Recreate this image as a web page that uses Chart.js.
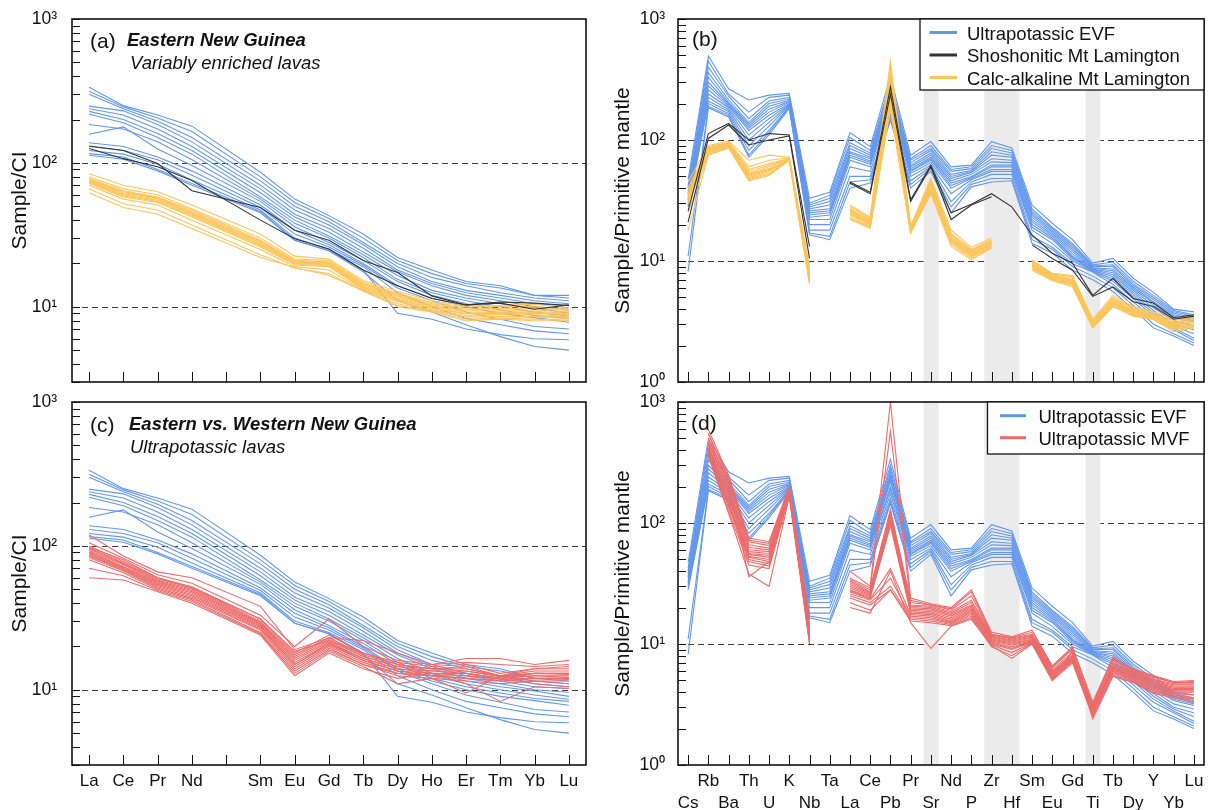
<!DOCTYPE html>
<html><head><meta charset="utf-8">
<script src="https://cdn.jsdelivr.net/npm/chart.js@4.4.1/dist/chart.umd.min.js"></script>
<style>
html,body{margin:0;padding:0;background:#fff;width:1211px;height:810px;overflow:hidden}
canvas{position:absolute;display:block}
</style></head><body>
<canvas id="ca" width="600" height="392" style="left:0;top:0"></canvas>
<canvas id="cb" width="611" height="392" style="left:600px;top:0"></canvas>
<canvas id="cc" width="600" height="418" style="left:0;top:392px"></canvas>
<canvas id="cd" width="611" height="418" style="left:600px;top:392px"></canvas>
<script>
// ---------------- categories ----------------
const REE = ['La','Ce','Pr','Nd','Pm','Sm','Eu','Gd','Tb','Dy','Ho','Er','Tm','Yb','Lu'];
const PM  = ['Cs','Rb','Ba','Th','U','K','Nb','Ta','La','Ce','Pb','Pr','Sr','Nd','P','Zr','Hf','Sm','Eu','Gd','Ti','Tb','Dy','Y','Yb','Lu'];
const DECADES = [1, 10, 100, 1000];
const DASHED = [10, 100];
const BANDS = [['Sr','Sr'], ['Zr','Hf'], ['Ti','Ti']];

// ---------------- chondrite-normalised REE (panels a, c) ----------------
const EVF_REE = [
 [335,250,215,180,null,86,56,43,32,22,18,15,14,12,12],
 [315,245,205,165,null,80,53,41,30,21,17,14.5,13.5,12,11.5],
 [300,238,195,150,null,75,50,39,28,20,16,14,12.5,11.5,11],
 [248,230,185,140,null,70,47,37,27,19,15,13,12,11,10.5],
 [238,215,172,130,null,66,44,35,25.5,18,14.5,12.5,11.5,10.5,10.2],
 [228,200,160,122,null,62,42,33,24,17.5,14,12,11,10,9.6],
 [218,190,150,115,null,58,40,31,23,16.5,13,11.5,10.5,9.8,9.0],
 [185,172,140,105,null,56,38,30,22,15.5,12.5,11,10,9.2,8.6],
 [158,178,125,96,null,54,36,28,21,15,12,10.5,9.5,8.7,8.3],
 [138,130,110,88,null,51,34,27,20,14,11.5,10,9,8.4,7.8],
 [130,122,105,82,null,49,32,26,19.5,13.5,11,9.2,8.2,7.3,7.0],
 [122,115,98,76,null,47,30,25,19,12.5,10,8.3,7.5,6.8,6.5],
 [116,110,90,72,null,46,29,24.5,18,9.0,8.2,7.0,6.4,6.0,5.9],
 [113,106,88,70,null,45,29,24.5,17.5,11,9.2,7.5,6.2,5.3,5.0]
];
const SHO_REE = [
 [131,122,99,64,null,49,34,29,21,17.3,11.9,10.3,10.6,9.6,10.3],
 [126,107,94,75.5,null,40,29.7,25.2,18,14,11.4,10.3,10.8,10.6,10.2]
];
const CA_REE = [
 [84,70,63,51,null,32,22.5,21.5,15.2,12.8,11,10.2,10.2,10.4,9.8],
 [80,66,60,48,null,30,21.5,21,14.8,12.4,10.7,10,10,10,9.6],
 [78,64,58,47,null,29,21,20.5,14.5,12.2,10.5,9.8,9.7,9.8,9.4],
 [77,63,57.5,46,null,28.5,20.8,20.2,14.3,12,10.3,9.6,9.5,9.5,9.2],
 [76,62,57,45,null,28,20.5,20,14,11.8,10.1,9.4,9.3,9.3,9.0],
 [75,61,56,44.5,null,27.5,20.2,19.8,13.8,11.5,10,9.2,9.1,9.1,8.9],
 [74,60,55,44,null,27,20,19.5,13.6,11.3,9.8,9.0,9.0,9.0,8.8],
 [73,59,54,43,null,26.5,19.8,19.2,13.4,11.1,9.7,8.9,8.8,8.8,8.6],
 [72,58,53,42,null,26,19.5,19,13.2,10.9,9.5,8.7,8.6,8.6,8.5],
 [70,56,51,40,null,25,19,18,13,10.5,9.4,8.5,8.5,8.5,8.3],
 [66,52,47,37,null,23,18.5,17,12.8,10.2,9.3,8.2,8.3,8.2,8.1],
 [62,49,44,35,null,22,18.8,16.5,13,10,9.2,8.0,8.2,8.0,8.0]
];
const MVF_REE = [
 [119,85,66,60,null,38,19,23,22,18,15,16.5,16.5,15,16],
 [105,82,63,55,null,33,20,31,20,16,15,15.5,15,14.5,15],
 [100,78,60,52,null,31,18,24,18,15.5,14.5,15,13,14,14.5],
 [97,76,59,51,null,30,17.5,23,17.5,15,14,14.5,12.5,14,14],
 [95,75,58,50,null,29.5,17,22.5,17,14.5,14,14,12.5,13.5,13.5],
 [93,74,57,49,null,29,16.5,22,17,14.5,13.5,13.5,12.3,13,13],
 [91,72,56,48,null,28.5,16,21.5,16.5,14,13.5,13,12,13,12.8],
 [90,71,55,47,null,28,15.5,21,16.5,14,13,13,12,12.5,12.5],
 [88,70,54,46,null,27.5,15,21,16,13.5,13,12.5,12,12.5,12.2],
 [86,69,53,45,null,27,15,20.5,16,13.5,12.5,12.5,11.8,12,12],
 [85,68,52,44,null,26.5,14.5,20,15.5,13,12.5,12,11.5,12,11.8],
 [83,67,51,43,null,26,14,19.5,15,13,12.5,12,11.5,11.5,11.5],
 [80,65,50,42,null,25,13.5,19,15,12.5,12,11.5,11,11.5,11],
 [70,62,49,41,null,24.5,13,18.5,14.5,11,12,9.5,12.5,11,10.5],
 [60,58,48,40,null,24,12.5,18,14,12,13,11,8.3,10.5,10.2],
 [98,80,60,51,null,31,18.5,22,18,15,14,13.5,12.5,13,13]
];

// ---------------- primitive-mantle-normalised (panels b, d) ----------------
const EVF_PM = [
 [47,494,265,214,235,243,33,37,115,88,336,75,97,60,62,97,86,29,20.5,15,9.6,10.5,7.2,5.5,4.0,3.8],
 [42,450,240,170,225,235,30,35,105,82,300,70,90,57,60,90,82,27,19,14,9.3,9.8,6.8,5.2,3.9,3.6],
 [40,400,230,150,210,225,29,33,95,78,280,68,85,55,58,85,78,26,18.5,13.5,9.1,9.3,6.5,5.0,3.8,3.5],
 [38,360,215,140,200,218,28,31,90,75,260,65,82,52,56,80,75,25,18,13,9.0,9.0,6.3,4.8,3.7,3.4],
 [36,330,205,135,190,212,27,29,85,72,250,62,78,50,55,75,72,24,17.5,12.5,8.8,8.6,6.1,4.6,3.6,3.3],
 [35,300,200,130,180,208,26,27,80,70,240,60,75,48,54,70,68,23,17,12,8.7,8.3,5.9,4.5,3.5,3.2],
 [33,280,195,125,170,205,25,26,78,67,230,58,72,46,52,66,65,22,16.5,11.5,8.6,8.0,5.7,4.3,3.4,3.1],
 [32,260,190,120,160,200,24,25,75,65,220,56,70,44,50,62,62,21,16,11,8.5,7.7,5.5,4.1,3.2,2.9],
 [31,240,185,110,150,198,23,24,72,63,200,55,68,42,49,60,60,20,15.5,10.7,8.4,7.4,5.3,3.9,3.0,2.7],
 [30,225,178,100,140,195,22,22,68,60,190,53,65,40,48,57,57,19,15,10.4,8.3,7.1,5.1,3.7,2.9,2.5],
 [29,210,172,90,130,192,20,20,60,55,175,50,62,36,47,55,55,18,14,10,8.2,6.8,4.9,3.5,2.8,2.3],
 [28,200,165,82,120,188,18,18,50,50,160,46,60,31,45,52,52,16,13,9.5,8.1,6.4,4.6,3.3,2.7,2.2],
 [11,190,160,75,115,185,17,16,45,47,150,43,58,28,43,48,48,15,12.5,9.0,7.5,6.0,4.3,3.0,2.5,2.1],
 [8.2,185,155,72,110,182,16.5,15,40,44,145,40,55,25,41,45,46,14,11.6,8.4,7.0,5.6,4.0,2.8,2.4,2.0]
];
const SHO_PM = [
 [26,113,137,100,113,110,13.2,null,45,37,275,32,62,25,29.5,36,28,16.4,11.6,9.6,5.2,7.2,4.9,4.5,3.4,3.6],
 [21,103,133,91,100,108,10.5,null,44,36,240,31,60,22,29,34,null,13.6,10.5,8.4,5.1,6.1,4.6,4.2,3.3,3.5]
];
const CA_PM = [
 [45,90,98,68,75,72,9.0,null,29,23,450,19.5,48,18,13,15.5,null,10.2,7.9,7.6,3.3,5.2,4.2,3.8,3.3,3.6],
 [40,88,96,60,68,71,8.5,null,28,22.5,400,19,46,17,12.5,15,null,10,7.8,7.4,3.2,5.0,4.1,3.7,3.2,3.5],
 [38,86,95,57,64,70.5,8.2,null,27,22,350,18.7,45,16.5,12.2,14.7,null,9.8,7.7,7.2,3.15,4.9,4.0,3.6,3.1,3.4],
 [36,85,94,55,62,70,8.0,null,26.5,21.5,320,18.5,44,16,12,14.5,null,9.6,7.6,7.0,3.1,4.8,3.9,3.6,3.05,3.3],
 [35,84,93,53,60,70,7.8,null,26,21,300,18.2,43,15.5,11.8,14.2,null,9.4,7.5,6.9,3.05,4.7,3.85,3.55,3.0,3.2],
 [34,83,92,52,58,69.5,7.6,null,25.5,20.5,280,18,42,15.2,11.6,14,null,9.3,7.4,6.8,3.0,4.6,3.8,3.5,2.95,3.15],
 [33,82,91,51,57,69,7.4,null,25,20.2,260,17.8,41,15,11.4,13.8,null,9.2,7.3,6.7,2.95,4.5,3.75,3.45,2.9,3.1],
 [32,81,90,50,56,69,7.2,null,24.5,20,240,17.6,40,14.8,11.2,13.6,null,9.1,7.2,6.6,2.9,4.45,3.7,3.4,2.85,3.0],
 [31,80,89,49,55,68.5,7.0,null,24,19.6,220,17.4,39,14.5,11,13.4,null,9.0,7.1,6.5,2.88,4.4,3.65,3.35,2.8,2.95],
 [30,78,88,48,53,68,6.8,null,23,19.2,200,17.2,38,14.2,10.8,13.2,null,8.8,7.0,6.4,2.85,4.3,3.6,3.3,2.75,2.9],
 [25,76,87,47,52,68,6.6,null,22.5,19,190,17,37,13.8,10.5,13,null,8.6,7.0,6.3,2.82,4.2,3.55,3.3,2.7,2.85],
 [18,75,86,46,51,68,6.5,null,22,18.6,180,17,36,13.2,10.2,12.8,null,8.4,6.9,6.1,2.8,4.2,3.5,3.3,2.6,2.8]
];
const MVF_PM = [
 [null,590,250,75,70,200,15.8,null,40,30,1000,24,21.5,20,28,12.5,11.5,13,6.6,9.5,3.3,7.8,6.2,5.5,4.9,5.0],
 [null,550,230,70,65,195,14.5,null,34,28,570,22,21,19,25,12,11.2,12,6.4,9.0,3.2,7.4,6.0,5.3,4.8,4.8],
 [null,500,220,66,62,190,13.5,null,33,27,130,21,20.5,18.5,23,11.8,11,11.8,6.2,8.5,3.1,7.0,5.9,5.1,4.7,4.7],
 [null,470,200,63,60,188,13,null,32,26.5,120,20.5,20,18,22,11.6,10.8,11.6,6.0,8.2,3.0,6.8,5.8,5.0,4.6,4.6],
 [null,450,190,60,58,185,12.5,null,31,26,115,20,19.5,17.5,21,11.4,10.6,11.4,5.9,8.0,3.0,6.6,5.7,4.9,4.5,4.5],
 [null,430,180,58,56,183,12.2,null,30,25.5,110,19.5,19,17,20.5,11.2,10.4,11.2,5.8,7.9,2.95,6.5,5.6,4.8,4.4,4.4],
 [null,420,170,56,54,180,12,null,29,25,105,19,18.5,16.5,20,11,10.2,11,5.7,7.8,2.9,6.4,5.5,4.7,4.3,4.3],
 [null,410,160,55,52,178,11.8,null,28,24.5,100,18.5,18,16,19.5,10.8,10,10.8,5.6,7.7,2.85,6.3,5.4,4.6,4.2,4.2],
 [null,400,150,53,50,176,11.5,null,27.5,24,95,18,17.5,15.5,19,10.6,9.8,10.6,5.5,7.6,2.8,6.2,5.3,4.5,4.1,4.1],
 [null,390,145,52,48,174,11.2,null,27,23.5,42,17.5,17,15.2,18.5,10.4,9.5,10.5,5.4,7.5,2.75,6.1,5.2,4.4,4.0,4.0],
 [null,380,140,50,46,172,11,null,26,23,35,17,16.5,15,18,10.2,9.2,10.4,5.3,7.4,2.7,6.0,5.1,4.3,3.9,3.8],
 [null,370,135,48,44,170,10.8,null,25,22,30,16.5,16,14.8,17.5,10,9,10.3,5.2,7.3,2.65,5.9,5.0,4.2,3.8,3.6],
 [null,360,125,45,42,168,10.5,null,24,21,28,16,15.5,14.5,17,9.8,8.5,10.2,5.1,7.2,2.6,5.7,4.9,4.1,3.7,3.5],
 [null,355,120,38,30,165,10.2,null,22,19,28,15.5,15,14.2,16.5,9.5,8,10.1,5.0,7.0,2.5,5.5,4.8,4.0,3.7,3.3],
 [null,500,210,36,48,185,10.0,null,20,18,40,15,9.2,14,16,9.7,7.6,10,5.0,8.8,2.4,5.4,4.8,3.9,3.6,3.3],
 [null,540,240,72,68,192,14,null,35,29,125,23,21,19.5,27,12,11.3,12.5,6.5,9.2,3.2,7.6,6.1,5.4,4.8,4.9]
];

// ---------------- styling ----------------
const FONT = "'Liberation Sans', Arial, Helvetica, sans-serif";
const BLUE = '#6397ec', BLACK = '#333333', YELLOW = '#fcc55a', RED = '#ec6b6b';
const SUP = {0:'\u2070', 1:'\u00B9', 2:'\u00B2', 3:'\u00B3'};
Chart.defaults.font.family = FONT;
Chart.defaults.color = '#111';

const decor = {
  id: 'decor',
  beforeDatasetsDraw(chart, args, o) {
    const {ctx, chartArea: a} = chart; const x = chart.scales.x, y = chart.scales.y;
    ctx.save();
    ctx.strokeStyle = '#3c3c3c'; ctx.lineWidth = 1.1; ctx.setLineDash([6, 4]);
    DASHED.forEach(v => { const py = Math.round(y.getPixelForValue(v)) + 0.5; ctx.beginPath(); ctx.moveTo(a.left, py); ctx.lineTo(a.right, py); ctx.stroke(); });
    ctx.setLineDash([]);
    if (o.bands) {
      ctx.fillStyle = '#ebebeb';
      const labels = chart.data.labels;
      o.bands.forEach(([c0, c1]) => {
        const x0 = x.getPixelForValue(labels.indexOf(c0) - 0.36);
        const x1 = x.getPixelForValue(labels.indexOf(c1) + 0.38);
        ctx.fillRect(x0, a.top, x1 - x0, a.bottom - a.top);
      });
    }
    ctx.restore();
  },
  afterDatasetsDraw(chart, args, o) {
    const {ctx, chartArea: a} = chart; const x = chart.scales.x, y = chart.scales.y;
    ctx.save();
    ctx.strokeStyle = '#111'; ctx.lineWidth = 1;
    chart.data.labels.forEach((l, i) => {
      const px = Math.round(x.getPixelForValue(i)) + 0.5;
      ctx.beginPath(); ctx.moveTo(px, a.bottom); ctx.lineTo(px, a.bottom - 10); ctx.stroke();
    });
    for (let d = 0; d <= 3; d++) for (let k = 1; k <= 9; k++) {
      const v = k * Math.pow(10, d);
      if (v < y.min - 1e-9 || v > y.max + 1e-9) continue;
      const py = Math.round(y.getPixelForValue(v)) + 0.5;
      ctx.beginPath(); ctx.moveTo(a.left, py); ctx.lineTo(a.left + 8, py); ctx.stroke();
    }
    ctx.lineWidth = 1.6; ctx.strokeRect(a.left, a.top, a.right - a.left, a.bottom - a.top);
    ctx.fillStyle = '#111'; ctx.textBaseline = 'alphabetic'; ctx.textAlign = 'left';
    (o.texts || []).forEach(t => { ctx.font = t.font; ctx.fillText(t.text, a.left + t.dx, a.top + t.dy); });
    const L = o.legend;
    if (L) {
      ctx.fillStyle = '#fff'; ctx.fillRect(L.x0, L.y0, L.x1 - L.x0, L.y1 - L.y0);
      ctx.strokeStyle = '#111'; ctx.lineWidth = 1.3; ctx.strokeRect(L.x0, L.y0, L.x1 - L.x0, L.y1 - L.y0);
      ctx.font = '18.5px ' + FONT;
      L.rows.forEach((r, i) => {
        const ly = L.ly0 + i * L.dy;
        ctx.strokeStyle = r.color; ctx.lineWidth = 3;
        ctx.beginPath(); ctx.moveTo(L.lx0, ly); ctx.lineTo(L.lx1, ly); ctx.stroke();
        ctx.fillStyle = '#111'; ctx.fillText(r.label, L.tx, ly + 7);
      });
    }
    ctx.restore();
  }
};

function group(rows, color, spanGaps) {
  return rows.map(r => ({data: r, borderColor: color, borderWidth: 1.1, pointRadius: 0, fill: false, spanGaps, tension: 0}));
}

function panel(id, labels, datasets, o) {
  return new Chart(document.getElementById(id), {
    type: 'line',
    data: {labels, datasets},
    options: {
      responsive: false, animation: false, events: [],
      layout: {padding: {left: 0, top: o.padTop, right: o.padRight, bottom: o.padBottom}},
      plugins: {legend: {display: false}, tooltip: {enabled: false}, decor: o.decor},
      scales: {
        x: {
          type: 'category', offset: true, display: o.xLabels,
          grid: {display: false, drawTicks: false}, border: {display: false},
          ticks: {autoSkip: false, maxRotation: 0, minRotation: 0, padding: 5, color: '#111',
                  font: {size: 17, lineHeight: 1.3}, callback: o.xCallback},
          afterFit: s => { s.height = o.xHeight; s.paddingLeft = 0; s.paddingRight = 0; }
        },
        y: {
          type: 'logarithmic', min: o.min, max: 1000,
          grid: {display: false, drawTicks: false}, border: {display: false},
          afterBuildTicks: s => { s.ticks = DECADES.filter(v => v >= o.min && v <= 1000).map(v => ({value: v, major: true})); },
          ticks: {autoSkip: false, padding: o.yPad, color: '#111', font: {size: 17.5, lineHeight: 1},
                  callback: v => '10' + SUP[Math.round(Math.log10(v))]},
          title: {display: true, text: o.yTitle, color: '#111', font: {size: 21}, padding: {top: o.titlePad, bottom: 0}},
          afterFit: s => { s.width = o.yWidth; s.paddingTop = 0; s.paddingBottom = 0; }
        }
      }
    },
    plugins: [decor]
  });
}

const reeLabel = function(v, i) { const l = REE[i]; return l === 'Pm' ? '' : l; };
const pmLabel = function(v, i) { const l = PM[i]; return i % 2 ? [l, ''] : ['', l]; };

// (a)
panel('ca', REE, [...group(SHO_REE, BLACK, true), ...group(CA_REE, YELLOW, true), ...group(EVF_REE, BLUE, true)], {
  min: 3, padTop: 19, padRight: 14, padBottom: 10, xLabels: false, xHeight: 0, yWidth: 72, yPad: 15, titlePad: 8,
  yTitle: 'Sample/CI', xCallback: reeLabel,
  decor: {texts: [
    {text: '(a)', dx: 18, dy: 29, font: '21px ' + FONT},
    {text: 'Eastern New Guinea', dx: 55, dy: 27, font: 'italic bold 18.5px ' + FONT},
    {text: 'Variably enriched lavas', dx: 58, dy: 50, font: 'italic 18.5px ' + FONT}
  ]}
});
// (b)
panel('cb', PM, [...group(SHO_PM, BLACK, false), ...group(CA_PM, YELLOW, false), ...group(EVF_PM, BLUE, false)], {
  min: 1, padTop: 19, padRight: 7, padBottom: 10, xLabels: false, xHeight: 0, yWidth: 78, yPad: 13, titlePad: 11,
  yTitle: 'Sample/Primitive mantle', xCallback: pmLabel,
  decor: {bands: BANDS,
    texts: [{text: '(b)', dx: 14, dy: 27, font: '21px ' + FONT}],
    legend: {x0: 320, y0: 19, x1: 604, y1: 90, lx0: 329.5, lx1: 357, tx: 367, ly0: 32.5, dy: 22.5,
      rows: [{label: 'Ultrapotassic EVF', color: BLUE}, {label: 'Shoshonitic Mt Lamington', color: BLACK}, {label: 'Calc-alkaline Mt Lamington', color: YELLOW}]}
  }
});
// (c)
panel('cc', REE, [...group(MVF_REE, RED, true), ...group(EVF_REE, BLUE, true)], {
  min: 3, padTop: 10, padRight: 14, padBottom: 0, xLabels: true, xHeight: 45, yWidth: 72, yPad: 15, titlePad: 8,
  yTitle: 'Sample/CI', xCallback: reeLabel,
  decor: {texts: [
    {text: '(c)', dx: 18, dy: 30, font: '21px ' + FONT},
    {text: 'Eastern vs. Western New Guinea', dx: 57, dy: 27.5, font: 'italic bold 18.5px ' + FONT},
    {text: 'Ultrapotassic lavas', dx: 58, dy: 51, font: 'italic 18.5px ' + FONT}
  ]}
});
// (d)
panel('cd', PM, [...group(MVF_PM, RED, false), ...group(EVF_PM, BLUE, false)], {
  min: 1, padTop: 10, padRight: 7, padBottom: 0, xLabels: true, xHeight: 45, yWidth: 78, yPad: 13, titlePad: 11,
  yTitle: 'Sample/Primitive mantle', xCallback: pmLabel,
  decor: {bands: BANDS,
    texts: [{text: '(d)', dx: 13, dy: 28, font: '21px ' + FONT}],
    legend: {x0: 387.5, y0: 10, x1: 604, y1: 62, lx0: 400, lx1: 426, tx: 438.5, ly0: 23.7, dy: 22,
      rows: [{label: 'Ultrapotassic EVF', color: BLUE}, {label: 'Ultrapotassic MVF', color: RED}]}
  }
});
</script>
</body></html>
